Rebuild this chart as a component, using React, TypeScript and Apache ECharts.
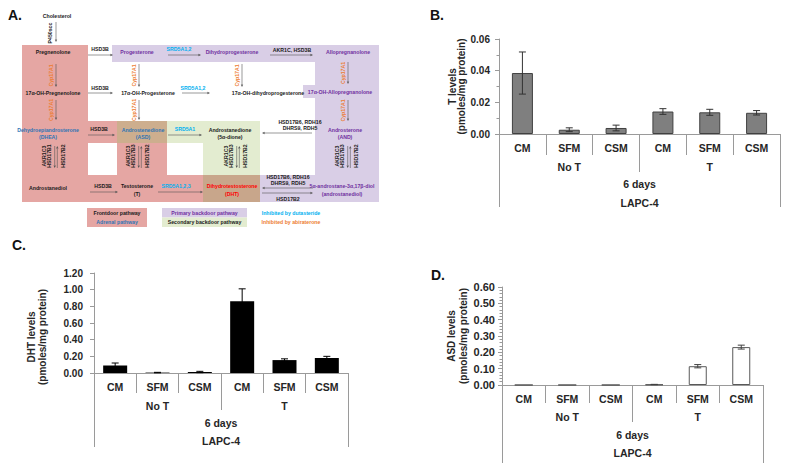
import React, { useEffect, useRef } from "react";
import * as echarts from "echarts";

// ---------- data ----------
const categories = ["CM", "SFM", "CSM", "CM", "SFM", "CSM"];
const treatmentGroups = ["No T", "T"];
const timeGroup = ["6 days"];
const cellLine = ["LAPC-4"];

const tMeans = [0.0385, 0.0027, 0.0038, 0.0142, 0.0137, 0.0134];
const tErrors = [0.0133, 0.0012, 0.0018, 0.0018, 0.0019, 0.0014];

const dhtMeans = [0.09, 0.005, 0.012, 0.86, 0.155, 0.18];
const dhtErrors = [0.03, 0.003, 0.008, 0.15, 0.015, 0.02];

const asdMeans = [0, 0, 0, 0.003, 0.115, 0.232];
const asdErrors = [0, 0, 0, 0.001, 0.01, 0.012];

// ---------- style ----------
const FF = "Liberation Sans, Arial, sans-serif";
const AX = "#9a9a9a";
const LBL = "#262626";
const RED_BG = "#e5a6a3";
const PUR_BG = "#d9cee6";
const GRN_BG = "#e3ecd0";
const TAN_BG = "#cdae8e";
const DHT_BG = "#c8a68b";
const PUR = "#7030a0";
const BLUE = "#2e74b5";
const CYAN = "#00b0f0";
const ORANGE = "#ed7d31";
const RED = "#ff0000";
const ARW = "#555555";

const FS = 5.2;
const ROT = Math.PI / 2;

function T(x: number, y: number, text: string, fill = "#1a1a1a", rot = 0, size = FS, align = "center"): any {
  return {
    type: "text", x, y, rotation: rot, silent: true,
    style: { text, fill, font: `bold ${size}px ${FF}`, align, verticalAlign: "middle" },
  };
}
function R(x: number, y: number, w: number, h: number, fill: string): any {
  return { type: "rect", silent: true, shape: { x, y, width: w, height: h }, style: { fill } };
}
function A(x1: number, y1: number, x2: number, y2: number, color = ARW): any[] {
  const dx = x2 - x1, dy = y2 - y1;
  const len = Math.sqrt(dx * dx + dy * dy) || 1;
  const ux = dx / len, uy = dy / len;
  const hl = 2.6, hw = 1.2;
  const bx = x2 - ux * hl, by = y2 - uy * hl;
  return [
    { type: "line", silent: true, shape: { x1, y1, x2: bx, y2: by }, style: { stroke: color, lineWidth: 0.6 } },
    {
      type: "polygon", silent: true,
      shape: { points: [[x2, y2], [bx - uy * hw, by + ux * hw], [bx + uy * hw, by - ux * hw]] },
      style: { fill: color },
    },
  ];
}

function buildDiagram(): any[] {
  const g: any[] = [];
  // backgrounds
  g.push(R(22, 45, 66, 157, RED_BG));
  g.push(R(88, 175, 115, 27, RED_BG));
  g.push(R(88, 121, 29, 22, RED_BG));
  g.push(R(117, 143, 50, 32, RED_BG));
  g.push(R(117, 121, 50, 22, TAN_BG));
  g.push(R(167, 121, 93, 22, GRN_BG));
  g.push(R(203, 143, 57, 32, GRN_BG));
  g.push(R(203, 175, 57, 27, DHT_BG));
  g.push(R(112, 45, 203, 17, PUR_BG));
  g.push(R(315, 45, 64, 157, PUR_BG));
  g.push(R(303, 85, 12, 13, PUR_BG));
  g.push(R(260, 175, 55, 27, PUR_BG));

  // cholesterol
  g.push(T(57, 16, "Cholesterol"));
  g.push(T(50, 33, "P450scc", "#1a1a1a", ROT));
  g.push(...A(56, 22, 56, 42));

  // row 1
  g.push(T(53, 52, "Pregnenolone"));
  g.push(T(100, 49, "HSD3B"));
  g.push(...A(88, 55, 113, 55));
  g.push(T(137, 52, "Progesterone", PUR));
  g.push(T(179, 49, "SRD5A1,2", CYAN));
  g.push(...A(168, 55, 201, 55));
  g.push(T(232, 52, "Dihydroprogesterone", PUR));
  g.push(T(292, 50, "AKR1C, HSD3B"));
  g.push(...A(270, 55, 313, 55));
  g.push(T(348, 52, "Allopregnanolone", PUR));

  // Cyp17A1 arrows
  const cypArrows = [
    [56, 64, 87], [139, 64, 87], [242, 64, 87], [348, 62, 84],
    [56, 100, 120], [139, 100, 120], [348, 100, 121],
  ];
  cypArrows.forEach(([x, y1, y2]) => {
    g.push(T(x - 5, (y1 + y2) / 2, "Cyp17A1", ORANGE, ROT));
    g.push(...A(x, y1, x, y2));
  });

  // row 2
  g.push(T(53, 93, "17α-OH-Pregnenolone"));
  g.push(T(100, 88, "HSD3B"));
  g.push(...A(88, 93, 113, 93));
  g.push(T(148, 93, "17α-OH-Progesterone"));
  g.push(T(193, 88, "SRD5A1,2", CYAN));
  g.push(...A(182, 93, 210, 93));
  g.push(T(268, 93, "17α-OH-dihydroprogesterone"));
  g.push(T(340, 92, "17α-OH-Allopregnanolone", PUR));

  // row 3
  g.push(T(48, 130, "Dehydroepiandrosterone", BLUE));
  g.push(T(48, 137, "(DHEA)", BLUE));
  g.push(T(99, 129, "HSD3B"));
  g.push(...A(88, 135, 115, 135));
  g.push(T(143, 130, "Androstenedione", BLUE));
  g.push(T(143, 137, "(ASD)", BLUE));
  g.push(T(185, 129, "SRD5A1", CYAN));
  g.push(...A(168, 135, 202, 135));
  g.push(T(230, 130, "Androstanedione"));
  g.push(T(230, 137, "(5α-dione)"));
  g.push(T(300, 122, "HSD17B6, RDH16"));
  g.push(T(300, 128, "DHRS9, RDH5"));
  g.push(...A(312, 133, 262, 133));
  g.push(T(345, 130, "Androsterone", PUR));
  g.push(T(345, 137, "(AND)", PUR));

  // double arrows
  const dbl = [
    [56, "HSD17B1"], [140, "HSD17B3"], [238, "HSD17B3"], [349, "HSD17B3"],
  ] as [number, string][];
  dbl.forEach(([x, l2]) => {
    g.push(T(x - 12, 156, "AKR1C3", "#1a1a1a", ROT));
    g.push(T(x - 7, 156, l2, "#1a1a1a", ROT));
    g.push(...A(x - 1.3, 146, x - 1.3, 168));
    g.push(...A(x + 1.3, 168, x + 1.3, 146));
    g.push(T(x + 7, 156, "HSD17B2", "#1a1a1a", ROT));
  });

  // row 4
  g.push(T(48, 188, "Androstanediol"));
  g.push(T(103, 186, "HSD3B"));
  g.push(...A(90, 192, 118, 192));
  g.push(T(137, 186, "Testosterone"));
  g.push(T(137, 194, "(T)"));
  g.push(T(176, 186, "SRD5A1,2,3", CYAN));
  g.push(...A(158, 192, 203, 192));
  g.push(T(232, 186, "Dihydrotestosterone", RED));
  g.push(T(232, 194, "(DHT)", RED));
  g.push(T(288, 177, "HSD17B6, RDH16"));
  g.push(T(288, 183, "DHRS9, RDH5"));
  g.push(...A(313, 188, 262, 188));
  g.push(...A(262, 193, 313, 193));
  g.push(T(288, 199, "HSD17B2"));
  g.push(T(342, 186, "5α-androstane-3α,17β-diol", PUR));
  g.push(T(342, 194, "(androstanediol)", PUR));

  // legend
  g.push(R(87, 208, 60, 19, RED_BG));
  g.push(T(117, 213, "Frontdoor pathway"));
  g.push(T(117, 222, "Adrenal pathway", BLUE));
  g.push(R(162, 208, 85, 9.5, PUR_BG));
  g.push(R(162, 217.5, 85, 9.5, GRN_BG));
  g.push(T(204.5, 213, "Primary backdoor pathway", PUR));
  g.push(T(204.5, 222, "Secondary backdoor pathway"));
  g.push(T(291, 213, "Inhibited by dutasteride", CYAN));
  g.push(T(291, 222, "Inhibited by abiraterone", ORANGE));

  // panel letters
  g.push(T(8, 15, "A.", "#111", 0, 14, "left"));
  g.push(T(430, 15, "B.", "#111", 0, 14, "left"));
  g.push(T(12, 245, "C.", "#111", 0, 14, "left"));
  g.push(T(431, 275, "D.", "#111", 0, 14, "left"));
  return g;
}

const labelStyle = { fontFamily: FF, fontWeight: "bold" as const, color: LBL, fontSize: 10.5 };

function hierAxes(gridIndex: number, lens: number[], margins: number[]): any[] {
  const base = {
    type: "category", gridIndex, position: "bottom", splitLine: { show: false },
  };
  return [
    {
      ...base, data: categories,
      axisLine: { show: true, lineStyle: { color: AX, width: 1 } },
      axisTick: { show: true, interval: 0, length: lens[0], lineStyle: { color: AX } },
      axisLabel: { ...labelStyle, interval: 0, margin: margins[0] },
    },
    {
      ...base, data: treatmentGroups,
      axisLine: { show: false },
      axisTick: { show: true, interval: 0, length: lens[1], lineStyle: { color: AX } },
      axisLabel: { ...labelStyle, interval: 0, margin: margins[1] },
    },
    {
      ...base, data: timeGroup,
      axisLine: { show: false },
      axisTick: { show: true, interval: 0, length: lens[2], lineStyle: { color: AX } },
      axisLabel: { ...labelStyle, interval: 0, margin: margins[2] },
    },
    {
      ...base, data: cellLine,
      axisLine: { show: false },
      axisTick: { show: false },
      axisLabel: { ...labelStyle, interval: 0, margin: margins[3] },
    },
  ];
}

function yAx(gridIndex: number, max: number, interval: number, name: string, nameGap: number, lineHeight: number, margin: number, fontSize: number, minor: number, padding: number[]): any {
  return {
    type: "value", gridIndex, min: 0, max, interval,
    name, nameLocation: "middle", nameRotate: 90, nameGap,
    nameTextStyle: { fontFamily: FF, fontWeight: "bold", fontSize: 10, color: LBL, lineHeight, padding },
    axisLine: { show: true, lineStyle: { color: AX } },
    axisTick: { show: true, length: 4, lineStyle: { color: AX } },
    minorTick: { show: minor > 0, splitNumber: minor || 5, length: 2.5, lineStyle: { color: AX } },
    splitLine: { show: false },
    minorSplitLine: { show: false },
    axisLabel: {
      fontFamily: FF, fontWeight: "bold", fontSize, color: LBL, margin,
      formatter: (v: number) => v.toFixed(2),
    },
  };
}

function barSeries(xAxisIndex: number, yAxisIndex: number, data: number[], barWidth: number, itemStyle: any): any {
  return { type: "bar", xAxisIndex, yAxisIndex, data, barWidth, itemStyle, silent: true };
}

function errSeries(xAxisIndex: number, yAxisIndex: number, means: number[], errs: number[], color: string): any {
  return {
    type: "custom", xAxisIndex, yAxisIndex, z: 5, silent: true,
    data: means.map((m, i) => [i, m - errs[i], m + errs[i]]),
    encode: { x: 0, y: [1, 2] },
    renderItem: (params: any, api: any) => {
      const i = api.value(0);
      const lo = api.value(1);
      const hi = api.value(2);
      if (hi - lo <= 0) return null;
      const top = api.coord([i, hi]);
      const bot = api.coord([i, Math.max(lo, 0)]);
      const hw = 3.5;
      const st = { stroke: color, lineWidth: 1 };
      return {
        type: "group",
        children: [
          { type: "line", shape: { x1: top[0], y1: top[1], x2: bot[0], y2: bot[1] }, style: st },
          { type: "line", shape: { x1: top[0] - hw, y1: top[1], x2: top[0] + hw, y2: top[1] }, style: st },
          { type: "line", shape: { x1: bot[0] - hw, y1: bot[1], x2: bot[0] + hw, y2: bot[1] }, style: st },
        ],
      };
    },
  };
}

export default function App() {
  const ref = useRef<HTMLDivElement>(null);
  useEffect(() => {
    if (!ref.current) return;
    const chart = echarts.init(ref.current, undefined, { renderer: "svg" });
    const option: any = {
      animation: false,
      backgroundColor: "#ffffff",
      grid: [
        { left: 499, top: 39, width: 281, height: 95 },
        { left: 94, top: 273, width: 254, height: 100 },
        { left: 502, top: 287, width: 261, height: 98 },
      ],
      xAxis: [
        ...hierAxes(0, [21, 38, 73], [8, 27, 44, 63]),
        ...hierAxes(1, [20, 37, 74], [8, 27, 44, 62]),
        ...hierAxes(2, [18, 37, 78], [8, 26, 44, 62]),
      ],
      yAxis: [
        yAx(0, 0.06, 0.02, "T levels\n(pmoles/mg protein)", 31, 9, 9, 10, 2, [0, 0, 0, 0]),
        yAx(1, 1.2, 0.2, "DHT levels\n(pmoles/mg protein)", 46, 11, 11, 10, 0, [0, 28, 0, 0]),
        yAx(2, 0.6, 0.1, "ASD levels\n(pmoles/mg protein)", 32, 12, 7, 11, 5, [0, 0, 0, 0]),
      ],
      series: [
        barSeries(0, 0, tMeans, 21, { color: "#7f7f7f", borderColor: "#404040", borderWidth: 1 }),
        errSeries(0, 0, tMeans, tErrors, "#333333"),
        barSeries(4, 1, dhtMeans, 24, { color: "#000000" }),
        errSeries(4, 1, dhtMeans, dhtErrors, "#000000"),
        barSeries(8, 2, asdMeans, 18, { color: "#ffffff", borderColor: "#595959", borderWidth: 1 }),
        errSeries(8, 2, asdMeans, asdErrors, "#404040"),
      ],
      graphic: { elements: buildDiagram() },
    };
    chart.setOption(option);
    return () => chart.dispose();
  }, []);
  return (
    <div
      ref={ref}
      style={{ position: "absolute", left: 0, top: 0, width: 785, height: 463, background: "#fff" }}
    />
  );
}
